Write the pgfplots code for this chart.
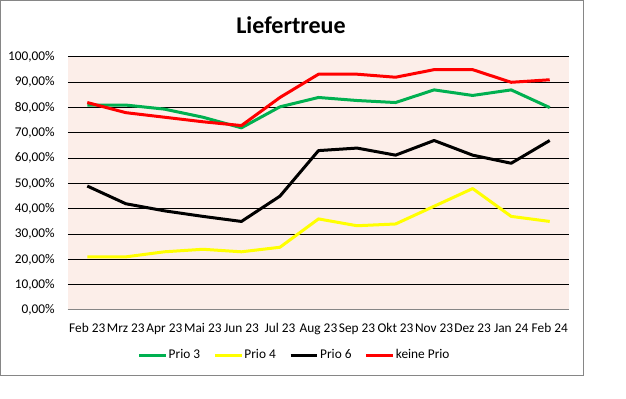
\documentclass[border=0pt]{standalone}
\usepackage{pgfplots}
\pgfplotsset{compat=1.18}
\usepackage{fontspec}
\setmainfont{Carlito}
\definecolor{bgpink}{RGB}{252,238,233}
\definecolor{exgreen}{RGB}{0,176,80}
\definecolor{exyellow}{RGB}{255,255,0}
\definecolor{framegray}{RGB}{134,134,134}
\begin{document}
\begin{tikzpicture}
\path[use as bounding box] (-51pt,-66.75pt) rectangle (418.5pt,232.5pt);
\draw[framegray, line width=0.75pt] (-50.625pt,-49.1pt) rectangle (386.25pt,232.125pt);
\node[anchor=base, font=\fontsize{18}{20}\selectfont\bfseries] at (167.25pt,207pt) {Liefertreue};
\begin{axis}[
  at={(0,0)}, anchor=south west,
  scale only axis, width=375.75pt, height=189.75pt,
  xmin=-0.5, xmax=12.5, ymin=0, ymax=100,
  axis background/.style={fill=bgpink},
  axis x line*=bottom, axis y line*=left,
  x axis line style={draw=framegray, line width=0.75pt, -},
  y axis line style={draw=none},
  xtick={0,...,12},
  xticklabels={Feb 23,Mrz 23,Apr 23,Mai 23,Jun 23,Jul 23,Aug 23,Sep 23,Okt 23,Nov 23,Dez 23,Jan 24,Feb 24},
  ytick={0,10,...,100},
  yticklabels={{0,00\%},{10,00\%},{20,00\%},{30,00\%},{40,00\%},{50,00\%},{60,00\%},{70,00\%},{80,00\%},{90,00\%},{100,00\%}},
  major tick length=0pt,
  ymajorgrids, major grid style={black, line width=0.75pt},
  tick label style={font=\fontsize{10}{12}\selectfont},
  yticklabel style={anchor=east, inner sep=0pt, xshift=-9.75pt},
  xticklabel style={anchor=base, inner sep=0pt, yshift=-16.9pt},
  /pgf/number format/assume math mode=true,
  legend columns=4,
  legend style={draw=none, fill=none, at={(0.451,-0.178)}, anchor=center,
    font=\fontsize{10}{12}\selectfont,
    nodes={inner sep=0.5pt},
    /tikz/every odd column/.append style={column sep=0.5pt},
    /tikz/every even column/.append style={column sep=9.5pt}},
  legend image code/.code={\draw[#1] (0pt,0pt) -- (20pt,0pt);},
  every axis plot/.append style={line width=2.25pt, line join=round, mark=none},
]
\addplot[exgreen] coordinates {(0,81) (1,81) (2,79.4) (3,76.2) (4,72) (5,80.3) (6,84) (7,82.8) (8,82) (9,87) (10,84.8) (11,87) (12,80)};
\addlegendentry{Prio 3}
\addplot[exyellow] coordinates {(0,21) (1,21) (2,23) (3,24) (4,23) (5,24.8) (6,36) (7,33.3) (8,34) (9,41) (10,48) (11,37) (12,35)};
\addlegendentry{Prio 4}
\addplot[black] coordinates {(0,49) (1,42) (2,39.2) (3,37) (4,35) (5,45) (6,63) (7,64) (8,61.2) (9,67) (10,61.2) (11,58) (12,67)};
\addlegendentry{Prio 6}
\addplot[red] coordinates {(0,82) (1,78) (2,76.2) (3,74.4) (4,72.9) (5,84) (6,93.2) (7,93.2) (8,92) (9,95) (10,95) (11,90) (12,91)};
\addlegendentry{keine Prio}
\end{axis}
\end{tikzpicture}
\end{document}
